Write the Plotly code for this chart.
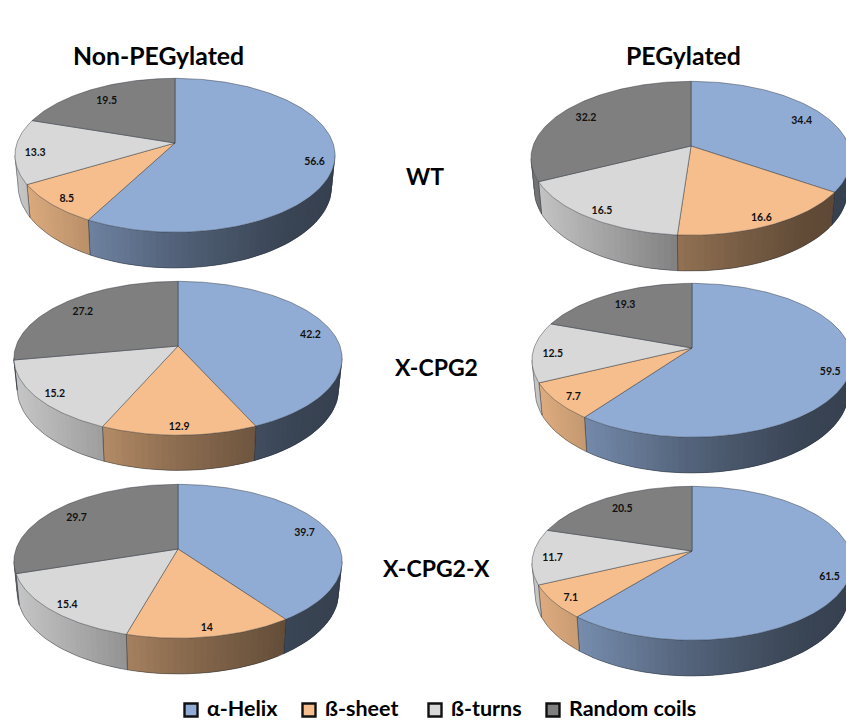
import numpy as np
import plotly.graph_objects as go

SERIES = ["α-Helix", "ß-sheet", "ß-turns", "Random coils"]
COLORS = [(145, 172, 212), (245, 190, 140), (216, 216, 216), (127, 127, 127)]

WT_PLAIN = [56.6, 8.5, 13.3, 19.5]
WT_PEG = [34.4, 16.6, 16.5, 32.2]
CPG2_PLAIN = [42.2, 12.9, 15.2, 27.2]
CPG2_PEG = [59.5, 7.7, 12.5, 19.3]
CPG2X_PLAIN = [39.7, 14, 15.4, 29.7]
CPG2X_PEG = [61.5, 7.1, 11.7, 20.5]

# Projected pie placement: centre x, centre y, half width, half height, depth
PIES = [
    (WT_PLAIN, 175, 143, 158, 75, 30),
    (WT_PEG, 691, 146, 158, 75, 30),
    (CPG2_PLAIN, 178, 346, 162, 75, 29.5),
    (CPG2_PEG, 692, 348, 158, 75, 30),
    (CPG2X_PLAIN, 178, 549, 162, 75, 30),
    (CPG2X_PEG, 692, 551, 158, 75, 30),
]
PERSPECTIVE = 0.16
BASE_SHRINK = 0.98
EDGE = "rgba(35,42,52,0.62)"

# Brightness of the rim, left to right across the pie
SHADE_POS = [0, 0.23, 0.456, 0.6, 0.85, 1]
SHADE_VAL = [0.92, 0.76, 0.60, 0.52, 0.40, 0.38]

fig = go.Figure()


def poly(xs, ys, fill=None, line=None, width=0.7):
    fig.add_trace(go.Scatter(
        x=xs, y=ys, mode="lines",
        fill="toself" if fill else "none",
        fillcolor=fill,
        line=dict(color=line or "rgba(0,0,0,0)", width=width if line else 0),
        hoverinfo="skip", showlegend=False,
    ))


def draw_pie(values, cx, cy, rx, ry, depth):
    k = PERSPECTIVE

    def top(t):
        s = 1 / (1 + k * np.cos(t))
        return cx + rx * np.sin(t) * s, cy - ry * np.cos(t) * s

    def base(t):
        s = 1 / (1 + k * np.cos(t))
        x, y = top(t)
        return cx + (x - cx) * BASE_SHRINK, y + depth * s

    shares = np.cumsum([0] + list(values)) / sum(values) * 2 * np.pi
    t_left = np.arccos(-k)
    t_right = 2 * np.pi - t_left
    left_x = cx - rx / np.sqrt(1 - k * k)

    # Rim strips first, so the top face sits over them.  Each strip runs on
    # under the next one, which keeps the gradient free of hairline seams.
    for i, rgb in enumerate(COLORS):
        a, b = max(shares[i], t_left), min(shares[i + 1], t_right)
        if b <= a:
            continue
        n = max(2, int(np.degrees(b - a) / 2))
        ts = np.linspace(a, b, n + 1)
        for j in range(n):
            t0, t1 = ts[j], ts[min(j + 2, n)]
            frac = (top((ts[j] + ts[j + 1]) / 2)[0] - left_x) / (2 * (cx - left_x))
            f = np.interp(frac, SHADE_POS, SHADE_VAL)
            col = "rgb(%d,%d,%d)" % tuple(int(c * f) for c in rgb)
            seg = np.linspace(t0, t1, 4)
            tx, ty = top(seg)
            bx, by = base(seg[::-1])
            poly(list(tx) + list(bx), list(ty) + list(by), fill=col)
        bx, by = base(np.linspace(a, b, n + 1))
        ax0, ay0 = top(a)
        ax1, ay1 = top(b)
        poly([ax0] + list(bx) + [ax1], [ay0] + list(by) + [ay1], line=EDGE)

    # Top face, one wedge per series
    for i, rgb in enumerate(COLORS):
        ts = np.linspace(shares[i], shares[i + 1], max(8, int(np.degrees(shares[i + 1] - shares[i]))))
        ex, ey = top(ts)
        poly([cx] + list(ex) + [cx], [cy] + list(ey) + [cy],
             fill="rgb(%d,%d,%d)" % rgb, line=EDGE)

    # Value labels just inside the rim of each wedge
    mids = (shares[:-1] + shares[1:]) / 2
    s = 1 / (1 + k * np.cos(mids))
    reach = 0.875 - 0.05 * np.maximum(np.cos(mids), 0)
    fig.add_trace(go.Scatter(
        x=cx + reach * rx * np.sin(mids) * s,
        y=cy + 3 - reach * ry * np.cos(mids) * s,
        mode="text", text=[f"{v:g}" for v in values],
        textposition="middle center",
        textfont=dict(family="Lato", size=10.5, color="#111", weight="bold"),
        hoverinfo="skip", showlegend=False,
    ))


for pie in PIES:
    draw_pie(*pie)

HEADINGS = [("Non-PEGylated", 158, 55), ("PEGylated", 683, 55)]
ROW_NAMES = [("WT", 425, 176), ("X-CPG2", 436, 367), ("X-CPG2-X", 436, 568)]
for text, x, y in HEADINGS:
    fig.add_annotation(x=x, y=y, text=f"<b>{text}</b>", showarrow=False,
                       font=dict(family="Lato", size=24.8, color="#000"),
                       xanchor="center", yanchor="middle")
for text, x, y in ROW_NAMES:
    fig.add_annotation(x=x, y=y, text=f"<b>{text}</b>", showarrow=False,
                       font=dict(family="Lato", size=23, color="#000"),
                       xanchor="center", yanchor="middle")

# Legend row along the bottom edge
KEY_X = [191, 309, 435, 553]
for name, rgb, x in zip(SERIES, COLORS, KEY_X):
    fig.add_trace(go.Scatter(
        x=[x], y=[710], mode="markers",
        marker=dict(symbol="square", size=13, color="rgb(%d,%d,%d)" % rgb,
                    line=dict(color="#111", width=2.4)),
        hoverinfo="skip", showlegend=False,
    ))
    fig.add_annotation(x=x + 14, y=708, text=f"<b>{name}</b>", showarrow=False,
                       font=dict(family="Lato", size=21.5, color="#000"),
                       xanchor="left", yanchor="middle")

fig.update_layout(
    width=846, height=721,
    margin=dict(l=0, r=0, t=0, b=0),
    paper_bgcolor="white", plot_bgcolor="white",
    xaxis=dict(range=[0, 846], visible=False, fixedrange=True),
    yaxis=dict(range=[721, 0], visible=False, fixedrange=True),
    showlegend=False,
)
fig.write_html("out.html", config=dict(displayModeBar=False))
